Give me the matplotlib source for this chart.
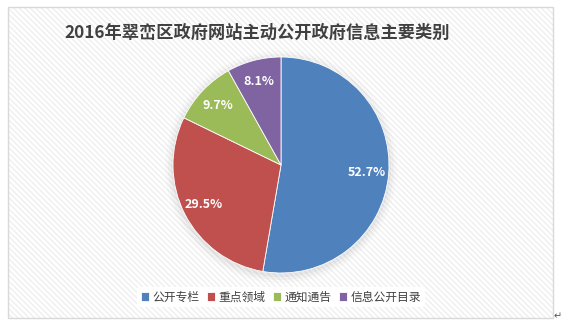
import matplotlib
matplotlib.use("Agg")
import matplotlib.pyplot as plt
from matplotlib.patches import Rectangle, Circle

plt.rcParams['font.family'] = ['Noto Sans CJK SC', 'DejaVu Sans']
plt.rcParams['hatch.linewidth'] = 1.0
plt.rcParams['hatch.color'] = '#EFEFEF'

title = "2016年翠峦区政府网站主动公开政府信息主要类别"
categories = ["公开专栏", "重点领域", "通知通告", "信息公开目录"]
values = [52.7, 29.5, 9.7, 8.1]
colors = ["#4F81BD", "#C0504D", "#9BBB59", "#8064A2"]

W, H = 562, 327
fig = plt.figure(figsize=(W / 100, H / 100), dpi=100)
fig.patch.set_facecolor('white')

# background frame with diagonal stripes
bg = fig.add_axes([0, 0, 1, 1])
bg.set_xlim(0, W)
bg.set_ylim(H, 0)
bg.axis('off')
bg.add_patch(Rectangle((8, 7), 545, 311, facecolor='white', edgecolor='#EFEFEF',
                       hatch='\\\\\\\\\\\\', linewidth=0))
bg.add_patch(Rectangle((8, 7), 545, 311, facecolor='none', edgecolor='#D9D9D9', linewidth=1.0))
# soft shadow behind pie
for r, a in [(116, 0.04), (113, 0.06), (110, 0.08)]:
    bg.add_patch(Circle((281, 167), r, facecolor='#808080', alpha=a, edgecolor='none'))
bg.text(558, 316, "↵", fontsize=7, color='#555555', ha='center', va='center',
        family=['DejaVu Sans'])

bg.text(257, 33, title, fontsize=12.4, fontweight='bold', color='#404040',
        ha='center', va='center')

# pie
r = 108
ax = fig.add_axes([(281 - r) / W, 1 - (165 + r) / H, 2 * r / W, 2 * r / H])
wedges, texts, autotexts = ax.pie(values, colors=colors, startangle=90, counterclock=False,
                                  autopct='%.1f%%', pctdistance=0.8,
                                  wedgeprops=dict(linewidth=0.6, edgecolor='white'),
                                  textprops=dict(color='white', fontsize=9, fontweight='bold'))
ax.set_aspect('equal')
ax.set_xlim(-1, 1)
ax.set_ylim(-1, 1)

leg = fig.legend(wedges, categories, loc='center', bbox_to_anchor=(281 / W, 1 - 297 / H),
                 ncol=4, frameon=True, fontsize=8.5, handlelength=0.7, handleheight=0.7,
                 handletextpad=0.3, columnspacing=0.6, borderpad=0.3)
leg.get_frame().set_facecolor('white')
leg.get_frame().set_edgecolor('none')
leg.get_frame().set_alpha(1)
for t in leg.get_texts():
    t.set_color('#404040')

fig.savefig("out.png", dpi=100)
